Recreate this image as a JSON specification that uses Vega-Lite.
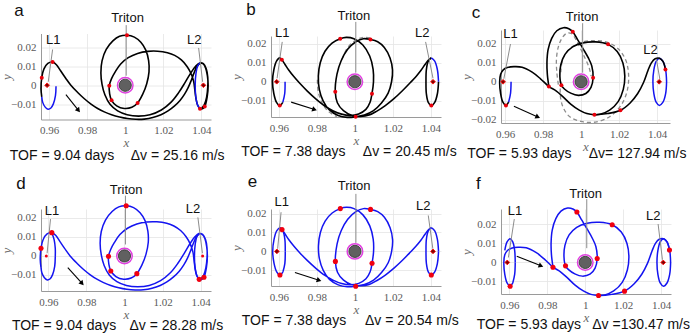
{
"$schema": "https://vega.github.io/schema/vega-lite/v6.json",
"padding": {"left": 0, "top": 1, "right": 0, "bottom": 0},
"background": "white",
"datasets": {
"tA": [
{"s":"o1","k":"orbit","x":0.9636,"y":-0.0005},{"s":"o1","k":"orbit","x":0.9633,"y":-0.0055},{"s":"o1","k":"orbit","x":0.9622,"y":-0.0098},{"s":"o1","k":"orbit","x":0.9608,"y":-0.0121},{"s":"o1","k":"orbit","x":0.9594,"y":-0.0126},{"s":"o1","k":"orbit","x":0.9579,"y":-0.0115},{"s":"o1","k":"orbit","x":0.9566,"y":-0.0090},{"s":"o1","k":"orbit","x":0.9561,"y":-0.0061},
{"s":"f1","k":"fill","x":0.9618,"y":0.0122},{"s":"f1","k":"fill","x":0.9630,"y":0.0085},{"s":"f1","k":"fill","x":0.9636,"y":0.0040},{"s":"f1","k":"fill","x":0.9636,"y":-0.0005},
{"s":"o2","k":"orbit","x":1.0394,"y":0.0118},{"s":"o2","k":"orbit","x":1.0381,"y":0.0102},{"s":"o2","k":"orbit","x":1.0372,"y":0.0062},{"s":"o2","k":"orbit","x":1.0368,"y":0.0},{"s":"o2","k":"orbit","x":1.0371,"y":-0.0060},{"s":"o2","k":"orbit","x":1.0380,"y":-0.0103},{"s":"o2","k":"orbit","x":1.0393,"y":-0.0123},
{"s":"m1","k":"traj","x":0.9561,"y":-0.0061},{"s":"m1","k":"traj","x":0.9557,"y":-0.0020},{"s":"m1","k":"traj","x":0.9561,"y":0.0040},{"s":"m1","k":"traj","x":0.9572,"y":0.0085},{"s":"m1","k":"traj","x":0.9593,"y":0.0115},{"s":"m1","k":"traj","x":0.9618,"y":0.0122},{"s":"m1","k":"traj","x":0.9638,"y":0.0108},{"s":"m1","k":"traj","x":0.9660,"y":0.0076},{"s":"m1","k":"traj","x":0.9686,"y":0.0038},{"s":"m1","k":"traj","x":0.9714,"y":0.0},{"s":"m1","k":"traj","x":0.9750,"y":-0.0038},{"s":"m1","k":"traj","x":0.9785,"y":-0.0071},{"s":"m1","k":"traj","x":0.9820,"y":-0.0099},{"s":"m1","k":"traj","x":0.9855,"y":-0.0122},{"s":"m1","k":"traj","x":0.9890,"y":-0.0140},{"s":"m1","k":"traj","x":0.9928,"y":-0.0155},{"s":"m1","k":"traj","x":0.9970,"y":-0.0167},{"s":"m1","k":"traj","x":1.0012,"y":-0.0175},{"s":"m1","k":"traj","x":1.0056,"y":-0.0179},{"s":"m1","k":"traj","x":1.0100,"y":-0.0178},{"s":"m1","k":"traj","x":1.0145,"y":-0.0170},{"s":"m1","k":"traj","x":1.0188,"y":-0.0155},{"s":"m1","k":"traj","x":1.0225,"y":-0.0135},{"s":"m1","k":"traj","x":1.0258,"y":-0.0110},{"s":"m1","k":"traj","x":1.0288,"y":-0.0080},{"s":"m1","k":"traj","x":1.0312,"y":-0.0047},{"s":"m1","k":"traj","x":1.0332,"y":-0.0010},{"s":"m1","k":"traj","x":1.0348,"y":0.0028},{"s":"m1","k":"traj","x":1.0362,"y":0.0065},{"s":"m1","k":"traj","x":1.0376,"y":0.0096},{"s":"m1","k":"traj","x":1.0394,"y":0.0116},{"s":"m1","k":"traj","x":1.0410,"y":0.0112},{"s":"m1","k":"traj","x":1.0423,"y":0.0090},{"s":"m1","k":"traj","x":1.0432,"y":0.0050},{"s":"m1","k":"traj","x":1.0436,"y":0.0},{"s":"m1","k":"traj","x":1.0431,"y":-0.0060},{"s":"m1","k":"traj","x":1.0418,"y":-0.0112},{"s":"m1","k":"traj","x":1.0405,"y":-0.0124},{"s":"m1","k":"traj","x":1.0393,"y":-0.0123},{"s":"m1","k":"traj","x":1.0381,"y":-0.0105},{"s":"m1","k":"traj","x":1.0372,"y":-0.0070},{"s":"m1","k":"traj","x":1.0366,"y":-0.0025},{"s":"m1","k":"traj","x":1.0360,"y":0.0020},{"s":"m1","k":"traj","x":1.0346,"y":0.0062},{"s":"m1","k":"traj","x":1.0325,"y":0.0099},{"s":"m1","k":"traj","x":1.0295,"y":0.0133},{"s":"m1","k":"traj","x":1.0260,"y":0.0157},{"s":"m1","k":"traj","x":1.0222,"y":0.0171},{"s":"m1","k":"traj","x":1.0170,"y":0.0179},{"s":"m1","k":"traj","x":1.0118,"y":0.0178},{"s":"m1","k":"traj","x":1.0065,"y":0.0167},{"s":"m1","k":"traj","x":1.0016,"y":0.0145},{"s":"m1","k":"traj","x":0.9976,"y":0.0112},{"s":"m1","k":"traj","x":0.9948,"y":0.0072},{"s":"m1","k":"traj","x":0.9928,"y":0.0035},{"s":"m1","k":"traj","x":0.9916,"y":-0.0002},{"s":"m1","k":"traj","x":0.9918,"y":-0.0045},{"s":"m1","k":"traj","x":0.9928,"y":-0.0079},{"s":"m1","k":"traj","x":0.9955,"y":-0.0108},{"s":"m1","k":"traj","x":0.9995,"y":-0.0122},{"s":"m1","k":"traj","x":1.0035,"y":-0.0116},{"s":"m1","k":"traj","x":1.0065,"y":-0.0093},{"s":"m1","k":"traj","x":1.0092,"y":-0.0047},{"s":"m1","k":"traj","x":1.0113,"y":0.0008},{"s":"m1","k":"traj","x":1.0125,"y":0.0070},{"s":"m1","k":"traj","x":1.0123,"y":0.0130},{"s":"m1","k":"traj","x":1.0108,"y":0.0185},{"s":"m1","k":"traj","x":1.0082,"y":0.0226},{"s":"m1","k":"traj","x":1.0048,"y":0.0253},{"s":"m1","k":"traj","x":1.0009,"y":0.0263},{"s":"m1","k":"traj","x":0.9970,"y":0.0257},{"s":"m1","k":"traj","x":0.9935,"y":0.0233},{"s":"m1","k":"traj","x":0.9900,"y":0.0188},{"s":"m1","k":"traj","x":0.9878,"y":0.0128},{"s":"m1","k":"traj","x":0.9872,"y":0.0065},{"s":"m1","k":"traj","x":0.9878,"y":0.0005},{"s":"m1","k":"traj","x":0.9893,"y":-0.0050},{"s":"m1","k":"traj","x":0.9920,"y":-0.0100},{"s":"m1","k":"traj","x":0.9960,"y":-0.0135},{"s":"m1","k":"traj","x":1.0010,"y":-0.0155},{"s":"m1","k":"traj","x":1.0070,"y":-0.0162},{"s":"m1","k":"traj","x":1.0130,"y":-0.0155},{"s":"m1","k":"traj","x":1.0190,"y":-0.0130},{"s":"m1","k":"traj","x":1.0240,"y":-0.0090},{"s":"m1","k":"traj","x":1.0280,"y":-0.0040},{"s":"m1","k":"traj","x":1.0315,"y":0.0015},{"s":"m1","k":"traj","x":1.0345,"y":0.0065},{"s":"m1","k":"traj","x":1.0370,"y":0.0100},{"s":"m1","k":"traj","x":1.0392,"y":0.0117},{"s":"m1","k":"traj","x":1.0411,"y":0.0113},{"s":"m1","k":"traj","x":1.0426,"y":0.0087},{"s":"m1","k":"traj","x":1.0434,"y":0.0042},{"s":"m1","k":"traj","x":1.0434,"y":-0.0010},{"s":"m1","k":"traj","x":1.0428,"y":-0.0062},{"s":"m1","k":"traj","x":1.0416,"y":-0.0102},{"s":"m1","k":"traj","x":1.0402,"y":-0.0120}
],
"tB": [
{"s":"f1","k":"fill","x":0.9605,"y":0.0125},{"s":"f1","k":"fill","x":0.9621,"y":0.0108},{"s":"f1","k":"fill","x":0.9631,"y":0.0063},{"s":"f1","k":"fill","x":0.9633,"y":0.0},
{"s":"o1","k":"orbit","x":0.9633,"y":0.0},{"s":"o1","k":"orbit","x":0.9631,"y":-0.0063},{"s":"o1","k":"orbit","x":0.9621,"y":-0.0108},
{"s":"m1","k":"traj","x":0.9621,"y":-0.0108},{"s":"m1","k":"traj","x":0.9605,"y":-0.0125},{"s":"m1","k":"traj","x":0.9588,"y":-0.0108},{"s":"m1","k":"traj","x":0.9574,"y":-0.0063},{"s":"m1","k":"traj","x":0.9567,"y":0.0},{"s":"m1","k":"traj","x":0.9574,"y":0.0063},{"s":"m1","k":"traj","x":0.9588,"y":0.0108},{"s":"m1","k":"traj","x":0.9605,"y":0.0125},{"s":"m1","k":"traj","x":0.9616,"y":0.0115},{"s":"m1","k":"traj","x":0.9632,"y":0.0092},{"s":"m1","k":"traj","x":0.9653,"y":0.0060},{"s":"m1","k":"traj","x":0.9679,"y":0.0027},{"s":"m1","k":"traj","x":0.9709,"y":-0.0007},{"s":"m1","k":"traj","x":0.9750,"y":-0.0049},{"s":"m1","k":"traj","x":0.9796,"y":-0.0091},{"s":"m1","k":"traj","x":0.9840,"y":-0.0126},{"s":"m1","k":"traj","x":0.9884,"y":-0.0152},{"s":"m1","k":"traj","x":0.9930,"y":-0.0170},{"s":"m1","k":"traj","x":0.9975,"y":-0.0177},{"s":"m1","k":"traj","x":1.0020,"y":-0.0169},{"s":"m1","k":"traj","x":1.0058,"y":-0.0145},{"s":"m1","k":"traj","x":1.0080,"y":-0.0108},{"s":"m1","k":"traj","x":1.0090,"y":-0.0063},{"s":"m1","k":"traj","x":1.0098,"y":0.0},{"s":"m1","k":"traj","x":1.0096,"y":0.0065},{"s":"m1","k":"traj","x":1.0078,"y":0.0135},{"s":"m1","k":"traj","x":1.0042,"y":0.0193},{"s":"m1","k":"traj","x":0.9995,"y":0.0226},{"s":"m1","k":"traj","x":0.9955,"y":0.0233},{"s":"m1","k":"traj","x":0.9923,"y":0.0226},{"s":"m1","k":"traj","x":0.9880,"y":0.0203},{"s":"m1","k":"traj","x":0.9843,"y":0.0160},{"s":"m1","k":"traj","x":0.9818,"y":0.0100},{"s":"m1","k":"traj","x":0.9808,"y":0.0030},{"s":"m1","k":"traj","x":0.9813,"y":-0.0040},{"s":"m1","k":"traj","x":0.9833,"y":-0.0100},{"s":"m1","k":"traj","x":0.9866,"y":-0.0148},{"s":"m1","k":"traj","x":0.9912,"y":-0.0177},{"s":"m1","k":"traj","x":0.9960,"y":-0.0187},{"s":"m1","k":"traj","x":1.0004,"y":-0.0184},{"s":"m1","k":"traj","x":1.0050,"y":-0.0175},{"s":"m1","k":"traj","x":1.0098,"y":-0.0152},{"s":"m1","k":"traj","x":1.0140,"y":-0.0112},{"s":"m1","k":"traj","x":1.0175,"y":-0.0060},{"s":"m1","k":"traj","x":1.0193,"y":0.0},{"s":"m1","k":"traj","x":1.0198,"y":0.0062},{"s":"m1","k":"traj","x":1.0185,"y":0.0125},{"s":"m1","k":"traj","x":1.0155,"y":0.0180},{"s":"m1","k":"traj","x":1.0120,"y":0.0210},{"s":"m1","k":"traj","x":1.0082,"y":0.0222},{"s":"m1","k":"traj","x":1.0045,"y":0.0226},{"s":"m1","k":"traj","x":1.0005,"y":0.0210},{"s":"m1","k":"traj","x":0.9962,"y":0.0170},{"s":"m1","k":"traj","x":0.9928,"y":0.0110},{"s":"m1","k":"traj","x":0.9906,"y":0.0040},{"s":"m1","k":"traj","x":0.9897,"y":-0.0053},{"s":"m1","k":"traj","x":0.9908,"y":-0.0110},{"s":"m1","k":"traj","x":0.9940,"y":-0.0152},{"s":"m1","k":"traj","x":0.9985,"y":-0.0177},{"s":"m1","k":"traj","x":1.0030,"y":-0.0182},{"s":"m1","k":"traj","x":1.0075,"y":-0.0175},{"s":"m1","k":"traj","x":1.0116,"y":-0.0154},{"s":"m1","k":"traj","x":1.0160,"y":-0.0125},{"s":"m1","k":"traj","x":1.0204,"y":-0.0090},{"s":"m1","k":"traj","x":1.0250,"y":-0.0047},{"s":"m1","k":"traj","x":1.0291,"y":-0.0005},{"s":"m1","k":"traj","x":1.0322,"y":0.0028},{"s":"m1","k":"traj","x":1.0348,"y":0.0060},{"s":"m1","k":"traj","x":1.0370,"y":0.0092},{"s":"m1","k":"traj","x":1.0387,"y":0.0114},{"s":"m1","k":"traj","x":1.0402,"y":0.0125},
{"s":"o2","k":"orbit","x":1.0402,"y":0.0125},{"s":"o2","k":"orbit","x":1.0420,"y":0.0108},{"s":"o2","k":"orbit","x":1.0434,"y":0.0063},{"s":"o2","k":"orbit","x":1.0440,"y":0.0},
{"s":"m2","k":"traj","x":1.0440,"y":0.0},{"s":"m2","k":"traj","x":1.0434,"y":-0.0063},{"s":"m2","k":"traj","x":1.0420,"y":-0.0108},{"s":"m2","k":"traj","x":1.0402,"y":-0.0125},{"s":"m2","k":"traj","x":1.0386,"y":-0.0108},{"s":"m2","k":"traj","x":1.0376,"y":-0.0063},{"s":"m2","k":"traj","x":1.0374,"y":0.0},{"s":"m2","k":"traj","x":1.0376,"y":0.0063},{"s":"m2","k":"traj","x":1.0386,"y":0.0108},{"s":"m2","k":"traj","x":1.0402,"y":0.0125},
{"s":"d1","k":"dash","x":0.9932,"y":0.0118},{"s":"d1","k":"dash","x":0.9960,"y":0.0176},{"s":"d1","k":"dash","x":0.9998,"y":0.0214},{"s":"d1","k":"dash","x":1.0045,"y":0.0233},{"s":"d1","k":"dash","x":1.0088,"y":0.0229},
{"s":"d2","k":"dash","x":0.9803,"y":0.0010},{"s":"d2","k":"dash","x":0.9807,"y":-0.0050},{"s":"d2","k":"dash","x":0.9826,"y":-0.0107},{"s":"d2","k":"dash","x":0.9860,"y":-0.0155},{"s":"d2","k":"dash","x":0.9905,"y":-0.0183}
],
"tC": [
{"s":"f1","k":"fill","x":0.9576,"y":0.0063},{"s":"f1","k":"fill","x":0.9588,"y":0.0108},{"s":"f1","k":"fill","x":0.9604,"y":0.0125},{"s":"f1","k":"fill","x":0.9618,"y":0.0108},{"s":"f1","k":"fill","x":0.9628,"y":0.0063},{"s":"f1","k":"fill","x":0.9631,"y":0.0},
{"s":"o1","k":"orbit","x":0.9631,"y":0.0},{"s":"o1","k":"orbit","x":0.9628,"y":-0.0063},{"s":"o1","k":"orbit","x":0.9618,"y":-0.0108},
{"s":"o2","k":"orbit","x":1.0450,"y":0.0},{"s":"o2","k":"orbit","x":1.0445,"y":0.0063},{"s":"o2","k":"orbit","x":1.0431,"y":0.0108},{"s":"o2","k":"orbit","x":1.0412,"y":0.0125},{"s":"o2","k":"orbit","x":1.0395,"y":0.0108},{"s":"o2","k":"orbit","x":1.0383,"y":0.0063},{"s":"o2","k":"orbit","x":1.0378,"y":0.0},{"s":"o2","k":"orbit","x":1.0383,"y":-0.0063},{"s":"o2","k":"orbit","x":1.0395,"y":-0.0108},{"s":"o2","k":"orbit","x":1.0412,"y":-0.0125},{"s":"o2","k":"orbit","x":1.0431,"y":-0.0108},{"s":"o2","k":"orbit","x":1.0445,"y":-0.0063},{"s":"o2","k":"orbit","x":1.0450,"y":0.0},
{"s":"m1","k":"traj","x":0.9618,"y":-0.0108},{"s":"m1","k":"traj","x":0.9604,"y":-0.0125},{"s":"m1","k":"traj","x":0.9588,"y":-0.0108},{"s":"m1","k":"traj","x":0.9576,"y":-0.0063},{"s":"m1","k":"traj","x":0.9571,"y":0.0},{"s":"m1","k":"traj","x":0.9576,"y":0.0040},{"s":"m1","k":"traj","x":0.9590,"y":0.0063},{"s":"m1","k":"traj","x":0.9611,"y":0.0075},{"s":"m1","k":"traj","x":0.9646,"y":0.0080},{"s":"m1","k":"traj","x":0.9689,"y":0.0077},{"s":"m1","k":"traj","x":0.9742,"y":0.0051},{"s":"m1","k":"traj","x":0.9786,"y":0.0016},{"s":"m1","k":"traj","x":0.9830,"y":-0.0025},{"s":"m1","k":"traj","x":0.9868,"y":-0.0048},{"s":"m1","k":"traj","x":0.9905,"y":-0.0080},{"s":"m1","k":"traj","x":0.9945,"y":-0.0118},{"s":"m1","k":"traj","x":0.9990,"y":-0.0150},{"s":"m1","k":"traj","x":1.0030,"y":-0.0168},{"s":"m1","k":"traj","x":1.0070,"y":-0.0174},{"s":"m1","k":"traj","x":1.0140,"y":-0.0168},{"s":"m1","k":"traj","x":1.0207,"y":-0.0151},{"s":"m1","k":"traj","x":1.0258,"y":-0.0112},{"s":"m1","k":"traj","x":1.0298,"y":-0.0062},{"s":"m1","k":"traj","x":1.0328,"y":-0.0005},{"s":"m1","k":"traj","x":1.0352,"y":0.0060},{"s":"m1","k":"traj","x":1.0370,"y":0.0100},{"s":"m1","k":"traj","x":1.0390,"y":0.0122},{"s":"m1","k":"traj","x":1.0412,"y":0.0125},{"s":"m1","k":"traj","x":1.0431,"y":0.0108},{"s":"m1","k":"traj","x":1.0444,"y":0.0065},
{"s":"m2","k":"traj","x":0.9830,"y":-0.0025},{"s":"m2","k":"traj","x":0.9822,"y":0.0040},{"s":"m2","k":"traj","x":0.9820,"y":0.0102},{"s":"m2","k":"traj","x":0.9826,"y":0.0170},{"s":"m2","k":"traj","x":0.9845,"y":0.0230},{"s":"m2","k":"traj","x":0.9872,"y":0.0270},{"s":"m2","k":"traj","x":0.9907,"y":0.0286},{"s":"m2","k":"traj","x":0.9935,"y":0.0281},{"s":"m2","k":"traj","x":0.9956,"y":0.0265},{"s":"m2","k":"traj","x":0.9982,"y":0.0222},{"s":"m2","k":"traj","x":1.0012,"y":0.0172},{"s":"m2","k":"traj","x":1.0038,"y":0.0126},{"s":"m2","k":"traj","x":1.0056,"y":0.0084},{"s":"m2","k":"traj","x":1.0063,"y":0.0021},{"s":"m2","k":"traj","x":1.0052,"y":-0.0030},{"s":"m2","k":"traj","x":1.0025,"y":-0.0062},{"s":"m2","k":"traj","x":0.9985,"y":-0.0072},{"s":"m2","k":"traj","x":0.9945,"y":-0.0060},{"s":"m2","k":"traj","x":0.9912,"y":-0.0038},{"s":"m2","k":"traj","x":0.9896,"y":-0.0018},{"s":"m2","k":"traj","x":0.9888,"y":0.0030},{"s":"m2","k":"traj","x":0.9893,"y":0.0090},{"s":"m2","k":"traj","x":0.9915,"y":0.0145},{"s":"m2","k":"traj","x":0.9955,"y":0.0185},{"s":"m2","k":"traj","x":1.0010,"y":0.0206},{"s":"m2","k":"traj","x":1.0075,"y":0.0211},{"s":"m2","k":"traj","x":1.0142,"y":0.0198},{"s":"m2","k":"traj","x":1.0190,"y":0.0160},{"s":"m2","k":"traj","x":1.0220,"y":0.0100},{"s":"m2","k":"traj","x":1.0230,"y":0.0030},{"s":"m2","k":"traj","x":1.0222,"y":-0.0040},{"s":"m2","k":"traj","x":1.0195,"y":-0.0105},{"s":"m2","k":"traj","x":1.0150,"y":-0.0150},{"s":"m2","k":"traj","x":1.0100,"y":-0.0172},{"s":"m2","k":"traj","x":1.0070,"y":-0.0174},
{"s":"d1","k":"dash","x":0.9893,"y":0.0050},{"s":"d1","k":"dash","x":0.9902,"y":0.0115},{"s":"d1","k":"dash","x":0.9935,"y":0.0170},{"s":"d1","k":"dash","x":0.9990,"y":0.0205},{"s":"d1","k":"dash","x":1.0060,"y":0.0218},{"s":"d1","k":"dash","x":1.0135,"y":0.0210},{"s":"d1","k":"dash","x":1.0195,"y":0.0175},{"s":"d1","k":"dash","x":1.0235,"y":0.0115},{"s":"d1","k":"dash","x":1.0250,"y":0.0035},{"s":"d1","k":"dash","x":1.0242,"y":-0.0050},{"s":"d1","k":"dash","x":1.0210,"y":-0.0125},{"s":"d1","k":"dash","x":1.0150,"y":-0.0185},{"s":"d1","k":"dash","x":1.0075,"y":-0.0213},{"s":"d1","k":"dash","x":1.0000,"y":-0.0210},{"s":"d1","k":"dash","x":0.9940,"y":-0.0185},{"s":"d1","k":"dash","x":0.9905,"y":-0.0135},{"s":"d1","k":"dash","x":0.9890,"y":-0.0070},{"s":"d1","k":"dash","x":0.9893,"y":0.0},
{"s":"d2","k":"dash","x":0.9880,"y":-0.0015},{"s":"d2","k":"dash","x":0.9872,"y":0.0050},{"s":"d2","k":"dash","x":0.9870,"y":0.0120},{"s":"d2","k":"dash","x":0.9880,"y":0.0185},{"s":"d2","k":"dash","x":0.9900,"y":0.0232},{"s":"d2","k":"dash","x":0.9925,"y":0.0257},{"s":"d2","k":"dash","x":0.9950,"y":0.0254},{"s":"d2","k":"dash","x":0.9972,"y":0.0224},{"s":"d2","k":"dash","x":0.9997,"y":0.0175},{"s":"d2","k":"dash","x":1.0022,"y":0.0122},{"s":"d2","k":"dash","x":1.0042,"y":0.0075},{"s":"d2","k":"dash","x":1.0053,"y":0.0030}
],
"rA": [{"x":0.9561,"y":0.0040},{"x":0.9618,"y":0.0122},{"x":1.0009,"y":0.0263},{"x":0.9916,"y":-0.0002},{"x":0.9928,"y":-0.0079},{"x":1.0065,"y":-0.0093},{"x":1.0393,"y":-0.0123},{"x":1.0418,"y":-0.0112}],
"rB": [{"x":0.9616,"y":0.0115},{"x":0.9605,"y":-0.0125},{"x":0.9923,"y":0.0226},{"x":1.0082,"y":0.0222},{"x":0.9897,"y":-0.0053},{"x":1.0090,"y":-0.0063},{"x":1.0004,"y":-0.0184},{"x":1.0402,"y":-0.0125}],
"rC": [{"x":0.9604,"y":-0.0125},{"x":0.9830,"y":-0.0025},{"x":0.9896,"y":-0.0018},{"x":0.9956,"y":0.0265},{"x":1.0142,"y":0.0198},{"x":1.0063,"y":0.0021},{"x":1.0070,"y":-0.0174},{"x":1.0207,"y":-0.0151},{"x":1.0444,"y":0.0065}],
"lp": [{"x":0.9589,"y":0},{"x":1.0411,"y":0}],
"tri": [{"x":1.0,"y":0}],
"lead": [
{"p":"a","x":1.0005,"y":0.0316,"x2":1.0005,"y2":0.0050},{"p":"a","x":0.9618,"y":0.0188,"x2":0.9595,"y2":0.0018},{"p":"a","x":1.0386,"y":0.0196,"x2":1.0407,"y2":0.0018},
{"p":"b","x":1.0005,"y":0.0314,"x2":1.0005,"y2":0.0048},{"p":"b","x":0.9618,"y":0.0209,"x2":0.9591,"y2":0.0018},{"p":"b","x":1.0372,"y":0.0209,"x2":1.0411,"y2":0.0018},
{"p":"c","x":1.0008,"y":0.0310,"x2":1.0008,"y2":0.0048},{"p":"c","x":0.9628,"y":0.0200,"x2":0.9593,"y2":0.0016},{"p":"c","x":1.0396,"y":0.0121,"x2":1.0415,"y2":0.0012},
{"p":"d","x":1.0005,"y":0.0316,"x2":1.0005,"y2":0.0060},{"p":"d","x":0.9611,"y":0.0193,"x2":0.9593,"y2":0.0014},{"p":"d","x":1.0386,"y":0.0202,"x2":1.0410,"y2":0.0014},
{"p":"e","x":1.0005,"y":0.0304,"x2":1.0005,"y2":0.0045},{"p":"e","x":0.9611,"y":0.0207,"x2":0.9593,"y2":0.0014},{"p":"e","x":1.0386,"y":0.0190,"x2":1.0410,"y2":0.0014},
{"p":"f","x":1.0008,"y":0.0333,"x2":1.0008,"y2":0.0075},{"p":"f","x":0.9626,"y":0.0228,"x2":0.9595,"y2":0.0026},{"p":"f","x":1.0384,"y":0.0202,"x2":1.0407,"y2":0.0014}
],
"arr": [
{"p":"a","x":0.9688,"y":-0.0049,"x2":0.9754,"y2":-0.0132},
{"p":"b","x":0.9665,"y":-0.0107,"x2":0.9788,"y2":-0.0146},
{"p":"c","x":0.9646,"y":-0.0130,"x2":0.9772,"y2":-0.0186},
{"p":"d","x":0.9702,"y":-0.0061,"x2":0.9777,"y2":-0.0144},
{"p":"e","x":0.9684,"y":-0.0112,"x2":0.9811,"y2":-0.0153},
{"p":"f","x":0.9639,"y":0.0032,"x2":0.9767,"y2":-0.0018}
],
"ah": [
{"p":"a","x":0.9754,"y":-0.0132},{"p":"b","x":0.9788,"y":-0.0146},{"p":"c","x":0.9772,"y":-0.0186},
{"p":"d","x":0.9777,"y":-0.0144},{"p":"e","x":0.9811,"y":-0.0153},{"p":"f","x":0.9767,"y":-0.0018}
],
"ann": [
{"p":"a","t":"lab","txt":"Triton","x":1.0012,"y":0.0356},{"p":"a","t":"lab","txt":"L1","x":0.9621,"y":0.0237},{"p":"a","t":"lab","txt":"L2","x":1.0363,"y":0.0240},{"p":"a","t":"let","txt":"a","x":0.9441,"y":0.0389},{"p":"a","t":"bot","txt":"TOF = 9.04 days","x":0.9393,"y":-0.0391},{"p":"a","t":"bot","txt":"Δv = 25.16 m/s","x":1.0029,"y":-0.0391},
{"p":"b","t":"lab","txt":"Triton","x":0.9995,"y":0.0346},{"p":"b","t":"lab","txt":"L1","x":0.9618,"y":0.0258},{"p":"b","t":"lab","txt":"L2","x":1.0354,"y":0.0258},{"p":"b","t":"let","txt":"b","x":0.9454,"y":0.0375},{"p":"b","t":"bot","txt":"TOF = 7.38 days","x":0.9402,"y":-0.0392},{"p":"b","t":"bot","txt":"Δv = 20.45 m/s","x":1.0042,"y":-0.0392},
{"p":"c","t":"lab","txt":"Triton","x":1.0005,"y":0.0341},{"p":"c","t":"lab","txt":"L1","x":0.9628,"y":0.0253},{"p":"c","t":"lab","txt":"L2","x":1.0365,"y":0.0168},{"p":"c","t":"let","txt":"c","x":0.9447,"y":0.0366},{"p":"c","t":"bot","txt":"TOF = 5.93 days","x":0.9400,"y":-0.0405},{"p":"c","t":"bot","txt":"Δv= 127.94 m/s","x":1.0040,"y":-0.0405},
{"p":"d","t":"lab","txt":"Triton","x":1.0009,"y":0.0347},{"p":"d","t":"lab","txt":"L1","x":0.9619,"y":0.0237},{"p":"d","t":"lab","txt":"L2","x":1.0360,"y":0.0246},{"p":"d","t":"let","txt":"d","x":0.9456,"y":0.0377},{"p":"d","t":"bot","txt":"TOF = 9.04 days","x":0.9408,"y":-0.0386},{"p":"d","t":"bot","txt":"Δv = 28.28 m/s","x":1.0026,"y":-0.0386},
{"p":"e","t":"lab","txt":"Triton","x":0.9996,"y":0.0344},{"p":"e","t":"lab","txt":"L1","x":0.9614,"y":0.0260},{"p":"e","t":"lab","txt":"L2","x":1.0360,"y":0.0242},{"p":"e","t":"let","txt":"e","x":0.9460,"y":0.0368},{"p":"e","t":"bot","txt":"TOF = 7.38 days","x":0.9404,"y":-0.0389},{"p":"e","t":"bot","txt":"Δv = 20.54 m/s","x":1.0053,"y":-0.0389},
{"p":"f","t":"lab","txt":"Triton","x":1.0002,"y":0.0360},{"p":"f","t":"lab","txt":"L1","x":0.9630,"y":0.0272},{"p":"f","t":"lab","txt":"L2","x":1.0358,"y":0.0246},{"p":"f","t":"let","txt":"f","x":0.9437,"y":0.0413},{"p":"f","t":"bot","txt":"TOF = 5.93 days","x":0.9428,"y":-0.0350},{"p":"f","t":"bot","txt":"Δv =130.47 m/s","x":1.0037,"y":-0.0350}
]
},
"columns": 3,
"bounds": "flush",
"center": true,
"spacing": {"row": 86, "column": 60},
"concat": [
{
"width": 170, "height": 86,
"encoding": {
"x": {"field": "x", "type": "quantitative", "scale": {"domain": [0.9557, 1.0451], "nice": false, "zero": false}, "axis": {"values": [0.96, 0.98, 1, 1.02, 1.04], "format": "~g", "title": "x"}},
"y": {"field": "y", "type": "quantitative", "scale": {"domain": [-0.018, 0.0272], "nice": false, "zero": false}, "axis": {"values": [-0.01, 0, 0.01, 0.02], "format": "~g", "title": "y"}}
},
"layer": [
{"data": {"name": "tA"}, "transform": [{"filter": "datum.k=='traj'"}], "mark": {"type": "line", "color": "#000000", "strokeWidth": 1.6, "interpolate": "catmull-rom"}, "encoding": {"detail": {"field": "s"}, "order": {"value": null}}},
{"data": {"name": "tA"}, "transform": [{"filter": "datum.k=='orbit'"}], "mark": {"type": "line", "color": "#1414f0", "strokeWidth": 1.5, "interpolate": "catmull-rom"}, "encoding": {"detail": {"field": "s"}, "order": {"value": null}}},
{"data": {"name": "lead"}, "transform": [{"filter": "datum.p=='a'"}], "mark": {"type": "rule", "color": "#8c8c8c", "strokeWidth": 1}, "encoding": {"x2": {"field": "x2"}, "y2": {"field": "y2"}}},
{"data": {"name": "tri"}, "mark": {"type": "point", "shape": "circle", "filled": true, "fill": "#ffffff", "stroke": "#e040e0", "strokeWidth": 1.5, "size": 240, "opacity": 1}},
{"data": {"name": "tri"}, "mark": {"type": "point", "shape": "circle", "filled": true, "fill": "#606060", "stroke": "#2b2b2b", "strokeWidth": 0.8, "size": 150, "opacity": 1}},
{"data": {"name": "rA"}, "mark": {"type": "point", "shape": "circle", "filled": true, "color": "#e8000b", "size": 16, "opacity": 1}},
{"data": {"name": "lp"}, "mark": {"type": "point", "shape": "diamond", "filled": true, "fill": "#800000", "stroke": "#ff1010", "strokeWidth": 1, "size": 22, "opacity": 1}},
{"data": {"name": "arr"}, "transform": [{"filter": "datum.p=='a'"}], "mark": {"type": "rule", "color": "#000000", "strokeWidth": 1.1}, "encoding": {"x2": {"field": "x2"}, "y2": {"field": "y2"}}},
{"data": {"name": "ah"}, "transform": [{"filter": "datum.p=='a'"}], "mark": {"type": "point", "shape": "triangle-right", "filled": true, "color": "#000000", "size": 30, "angle": 51, "opacity": 1}},
{"data": {"name": "ann"}, "transform": [{"filter": "datum.p=='a' && datum.t=='lab'"}], "mark": {"type": "text", "fontSize": 13, "color": "#111111"}, "encoding": {"text": {"field": "txt"}}},
{"data": {"name": "ann"}, "transform": [{"filter": "datum.p=='a' && datum.t=='let'"}], "mark": {"type": "text", "fontSize": 17, "color": "#111111"}, "encoding": {"text": {"field": "txt"}}},
{"data": {"name": "ann"}, "transform": [{"filter": "datum.p=='a' && datum.t=='bot'"}], "mark": {"type": "text", "fontSize": 14, "align": "left", "baseline": "alphabetic", "color": "#111111"}, "encoding": {"text": {"field": "txt"}}}
]
},
{
"width": 170, "height": 81,
"encoding": {
"x": {"field": "x", "type": "quantitative", "scale": {"domain": [0.9559, 1.0453], "nice": false, "zero": false}, "axis": {"values": [0.96, 0.98, 1, 1.02, 1.04], "format": "~g", "title": "x"}},
"y": {"field": "y", "type": "quantitative", "scale": {"domain": [-0.0185, 0.024], "nice": false, "zero": false}, "axis": {"values": [-0.01, 0, 0.01, 0.02], "format": "~g", "title": "y"}}
},
"layer": [
{"data": {"name": "tB"}, "transform": [{"filter": "datum.k=='dash'"}], "mark": {"type": "line", "color": "#8c8c8c", "strokeWidth": 1.3, "strokeDash": [4, 3], "interpolate": "catmull-rom"}, "encoding": {"detail": {"field": "s"}, "order": {"value": null}}},
{"data": {"name": "tB"}, "transform": [{"filter": "datum.k=='traj'"}], "mark": {"type": "line", "color": "#000000", "strokeWidth": 1.6, "interpolate": "catmull-rom"}, "encoding": {"detail": {"field": "s"}, "order": {"value": null}}},
{"data": {"name": "tB"}, "transform": [{"filter": "datum.k=='orbit'"}], "mark": {"type": "line", "color": "#1414f0", "strokeWidth": 1.5, "interpolate": "catmull-rom"}, "encoding": {"detail": {"field": "s"}, "order": {"value": null}}},
{"data": {"name": "lead"}, "transform": [{"filter": "datum.p=='b'"}], "mark": {"type": "rule", "color": "#8c8c8c", "strokeWidth": 1}, "encoding": {"x2": {"field": "x2"}, "y2": {"field": "y2"}}},
{"data": {"name": "tri"}, "mark": {"type": "point", "shape": "circle", "filled": true, "fill": "#ffffff", "stroke": "#e040e0", "strokeWidth": 1.5, "size": 240, "opacity": 1}},
{"data": {"name": "tri"}, "mark": {"type": "point", "shape": "circle", "filled": true, "fill": "#606060", "stroke": "#2b2b2b", "strokeWidth": 0.8, "size": 150, "opacity": 1}},
{"data": {"name": "rB"}, "mark": {"type": "point", "shape": "circle", "filled": true, "color": "#e8000b", "size": 16, "opacity": 1}},
{"data": {"name": "lp"}, "mark": {"type": "point", "shape": "diamond", "filled": true, "fill": "#800000", "stroke": "#ff1010", "strokeWidth": 1, "size": 22, "opacity": 1}},
{"data": {"name": "arr"}, "transform": [{"filter": "datum.p=='b'"}], "mark": {"type": "rule", "color": "#000000", "strokeWidth": 1.1}, "encoding": {"x2": {"field": "x2"}, "y2": {"field": "y2"}}},
{"data": {"name": "ah"}, "transform": [{"filter": "datum.p=='b'"}], "mark": {"type": "point", "shape": "triangle-right", "filled": true, "color": "#000000", "size": 30, "angle": 18, "opacity": 1}},
{"data": {"name": "ann"}, "transform": [{"filter": "datum.p=='b' && datum.t=='lab'"}], "mark": {"type": "text", "fontSize": 13, "color": "#111111"}, "encoding": {"text": {"field": "txt"}}},
{"data": {"name": "ann"}, "transform": [{"filter": "datum.p=='b' && datum.t=='let'"}], "mark": {"type": "text", "fontSize": 17, "color": "#111111"}, "encoding": {"text": {"field": "txt"}}},
{"data": {"name": "ann"}, "transform": [{"filter": "datum.p=='b' && datum.t=='bot'"}], "mark": {"type": "text", "fontSize": 14, "align": "left", "baseline": "alphabetic", "color": "#111111"}, "encoding": {"text": {"field": "txt"}}}
]
},
{
"width": 169, "height": 93,
"encoding": {
"x": {"field": "x", "type": "quantitative", "scale": {"domain": [0.9578, 1.0468], "nice": false, "zero": false}, "axis": {"values": [0.96, 0.98, 1, 1.02, 1.04], "format": "~g", "title": "x"}},
"y": {"field": "y", "type": "quantitative", "scale": {"domain": [-0.0218, 0.0274], "nice": false, "zero": false}, "axis": {"values": [-0.02, -0.01, 0, 0.01, 0.02], "format": "~g", "title": "y"}}
},
"layer": [
{"data": {"name": "tC"}, "transform": [{"filter": "datum.k=='dash'"}], "mark": {"type": "line", "color": "#8c8c8c", "strokeWidth": 1.3, "strokeDash": [4, 3], "interpolate": "catmull-rom"}, "encoding": {"detail": {"field": "s"}, "order": {"value": null}}},
{"data": {"name": "tC"}, "transform": [{"filter": "datum.k=='orbit'"}], "mark": {"type": "line", "color": "#1414f0", "strokeWidth": 1.5, "interpolate": "catmull-rom"}, "encoding": {"detail": {"field": "s"}, "order": {"value": null}}},
{"data": {"name": "tC"}, "transform": [{"filter": "datum.k=='traj'"}], "mark": {"type": "line", "color": "#000000", "strokeWidth": 1.6, "interpolate": "catmull-rom"}, "encoding": {"detail": {"field": "s"}, "order": {"value": null}}},
{"data": {"name": "lead"}, "transform": [{"filter": "datum.p=='c'"}], "mark": {"type": "rule", "color": "#8c8c8c", "strokeWidth": 1}, "encoding": {"x2": {"field": "x2"}, "y2": {"field": "y2"}}},
{"data": {"name": "tri"}, "mark": {"type": "point", "shape": "circle", "filled": true, "fill": "#ffffff", "stroke": "#e040e0", "strokeWidth": 1.5, "size": 240, "opacity": 1}},
{"data": {"name": "tri"}, "mark": {"type": "point", "shape": "circle", "filled": true, "fill": "#606060", "stroke": "#2b2b2b", "strokeWidth": 0.8, "size": 150, "opacity": 1}},
{"data": {"name": "rC"}, "mark": {"type": "point", "shape": "circle", "filled": true, "color": "#e8000b", "size": 16, "opacity": 1}},
{"data": {"name": "lp"}, "mark": {"type": "point", "shape": "diamond", "filled": true, "fill": "#800000", "stroke": "#ff1010", "strokeWidth": 1, "size": 22, "opacity": 1}},
{"data": {"name": "arr"}, "transform": [{"filter": "datum.p=='c'"}], "mark": {"type": "rule", "color": "#000000", "strokeWidth": 1.1}, "encoding": {"x2": {"field": "x2"}, "y2": {"field": "y2"}}},
{"data": {"name": "ah"}, "transform": [{"filter": "datum.p=='c'"}], "mark": {"type": "point", "shape": "triangle-right", "filled": true, "color": "#000000", "size": 30, "angle": 24, "opacity": 1}},
{"data": {"name": "ann"}, "transform": [{"filter": "datum.p=='c' && datum.t=='lab'"}], "mark": {"type": "text", "fontSize": 13, "color": "#111111"}, "encoding": {"text": {"field": "txt"}}},
{"data": {"name": "ann"}, "transform": [{"filter": "datum.p=='c' && datum.t=='let'"}], "mark": {"type": "text", "fontSize": 17, "color": "#111111"}, "encoding": {"text": {"field": "txt"}}},
{"data": {"name": "ann"}, "transform": [{"filter": "datum.p=='c' && datum.t=='bot'"}], "mark": {"type": "text", "fontSize": 14, "align": "left", "baseline": "alphabetic", "color": "#111111"}, "encoding": {"text": {"field": "txt"}}}
]
},
{
"width": 170, "height": 82,
"encoding": {
"x": {"field": "x", "type": "quantitative", "scale": {"domain": [0.9561, 1.0455], "nice": false, "zero": false}, "axis": {"values": [0.96, 0.98, 1, 1.02, 1.04], "format": "~g", "title": "x"}},
"y": {"field": "y", "type": "quantitative", "scale": {"domain": [-0.0184, 0.0246], "nice": false, "zero": false}, "axis": {"values": [-0.01, 0, 0.01, 0.02], "format": "~g", "title": "y"}}
},
"layer": [
{"data": {"name": "tA"}, "transform": [{"filter": "datum.k!='dash'"}], "mark": {"type": "line", "color": "#1414f0", "strokeWidth": 1.5, "interpolate": "catmull-rom"}, "encoding": {"detail": {"field": "s"}, "order": {"value": null}}},
{"data": {"name": "lead"}, "transform": [{"filter": "datum.p=='d'"}], "mark": {"type": "rule", "color": "#8c8c8c", "strokeWidth": 1}, "encoding": {"x2": {"field": "x2"}, "y2": {"field": "y2"}}},
{"data": {"name": "tri"}, "mark": {"type": "point", "shape": "circle", "filled": true, "fill": "#ffffff", "stroke": "#e040e0", "strokeWidth": 1.5, "size": 240, "opacity": 1}},
{"data": {"name": "tri"}, "mark": {"type": "point", "shape": "circle", "filled": true, "fill": "#606060", "stroke": "#2b2b2b", "strokeWidth": 0.8, "size": 150, "opacity": 1}},
{"data": {"name": "rA"}, "mark": {"type": "point", "shape": "circle", "filled": true, "color": "#f00010", "size": 26, "opacity": 1}},
{"data": {"name": "lp"}, "mark": {"type": "point", "shape": "circle", "filled": true, "color": "#f00010", "size": 9, "opacity": 1}},
{"data": {"name": "arr"}, "transform": [{"filter": "datum.p=='d'"}], "mark": {"type": "rule", "color": "#000000", "strokeWidth": 1.1}, "encoding": {"x2": {"field": "x2"}, "y2": {"field": "y2"}}},
{"data": {"name": "ah"}, "transform": [{"filter": "datum.p=='d'"}], "mark": {"type": "point", "shape": "triangle-right", "filled": true, "color": "#000000", "size": 30, "angle": 48, "opacity": 1}},
{"data": {"name": "ann"}, "transform": [{"filter": "datum.p=='d' && datum.t=='lab'"}], "mark": {"type": "text", "fontSize": 13, "color": "#111111"}, "encoding": {"text": {"field": "txt"}}},
{"data": {"name": "ann"}, "transform": [{"filter": "datum.p=='d' && datum.t=='let'"}], "mark": {"type": "text", "fontSize": 17, "color": "#111111"}, "encoding": {"text": {"field": "txt"}}},
{"data": {"name": "ann"}, "transform": [{"filter": "datum.p=='d' && datum.t=='bot'"}], "mark": {"type": "text", "fontSize": 14, "align": "left", "baseline": "alphabetic", "color": "#111111"}, "encoding": {"text": {"field": "txt"}}}
]
},
{
"width": 170, "height": 77,
"encoding": {
"x": {"field": "x", "type": "quantitative", "scale": {"domain": [0.9558, 1.0453], "nice": false, "zero": false}, "axis": {"values": [0.96, 0.98, 1, 1.02, 1.04], "format": "~g", "title": "x"}},
"y": {"field": "y", "type": "quantitative", "scale": {"domain": [-0.0183, 0.0224], "nice": false, "zero": false}, "axis": {"values": [-0.01, 0, 0.01, 0.02], "format": "~g", "title": "y"}}
},
"layer": [
{"data": {"name": "tB"}, "transform": [{"filter": "datum.k!='dash'"}], "mark": {"type": "line", "color": "#1414f0", "strokeWidth": 1.5, "interpolate": "catmull-rom"}, "encoding": {"detail": {"field": "s"}, "order": {"value": null}}},
{"data": {"name": "lead"}, "transform": [{"filter": "datum.p=='e'"}], "mark": {"type": "rule", "color": "#8c8c8c", "strokeWidth": 1}, "encoding": {"x2": {"field": "x2"}, "y2": {"field": "y2"}}},
{"data": {"name": "tri"}, "mark": {"type": "point", "shape": "circle", "filled": true, "fill": "#ffffff", "stroke": "#e040e0", "strokeWidth": 1.5, "size": 240, "opacity": 1}},
{"data": {"name": "tri"}, "mark": {"type": "point", "shape": "circle", "filled": true, "fill": "#606060", "stroke": "#2b2b2b", "strokeWidth": 0.8, "size": 150, "opacity": 1}},
{"data": {"name": "rB"}, "mark": {"type": "point", "shape": "circle", "filled": true, "color": "#f00010", "size": 26, "opacity": 1}},
{"data": {"name": "lp"}, "mark": {"type": "point", "shape": "diamond", "filled": true, "fill": "#800000", "stroke": "#ff1010", "strokeWidth": 1, "size": 22, "opacity": 1}},
{"data": {"name": "arr"}, "transform": [{"filter": "datum.p=='e'"}], "mark": {"type": "rule", "color": "#000000", "strokeWidth": 1.1}, "encoding": {"x2": {"field": "x2"}, "y2": {"field": "y2"}}},
{"data": {"name": "ah"}, "transform": [{"filter": "datum.p=='e'"}], "mark": {"type": "point", "shape": "triangle-right", "filled": true, "color": "#000000", "size": 30, "angle": 18, "opacity": 1}},
{"data": {"name": "ann"}, "transform": [{"filter": "datum.p=='e' && datum.t=='lab'"}], "mark": {"type": "text", "fontSize": 13, "color": "#111111"}, "encoding": {"text": {"field": "txt"}}},
{"data": {"name": "ann"}, "transform": [{"filter": "datum.p=='e' && datum.t=='let'"}], "mark": {"type": "text", "fontSize": 17, "color": "#111111"}, "encoding": {"text": {"field": "txt"}}},
{"data": {"name": "ann"}, "transform": [{"filter": "datum.p=='e' && datum.t=='bot'"}], "mark": {"type": "text", "fontSize": 14, "align": "left", "baseline": "alphabetic", "color": "#111111"}, "encoding": {"text": {"field": "txt"}}}
]
},
{
"width": 170, "height": 85,
"encoding": {
"x": {"field": "x", "type": "quantitative", "scale": {"domain": [0.9556, 1.0452], "nice": false, "zero": false}, "axis": {"values": [0.96, 0.98, 1, 1.02, 1.04], "format": "~g", "title": "x"}},
"y": {"field": "y", "type": "quantitative", "scale": {"domain": [-0.0166, 0.0281], "nice": false, "zero": false}, "axis": {"values": [-0.01, 0, 0.01, 0.02], "format": "~g", "title": "y"}}
},
"layer": [
{"data": {"name": "tC"}, "transform": [{"filter": "datum.k!='dash'"}], "mark": {"type": "line", "color": "#1414f0", "strokeWidth": 1.5, "interpolate": "catmull-rom"}, "encoding": {"detail": {"field": "s"}, "order": {"value": null}}},
{"data": {"name": "lead"}, "transform": [{"filter": "datum.p=='f'"}], "mark": {"type": "rule", "color": "#8c8c8c", "strokeWidth": 1}, "encoding": {"x2": {"field": "x2"}, "y2": {"field": "y2"}}},
{"data": {"name": "tri"}, "mark": {"type": "point", "shape": "circle", "filled": true, "fill": "#ffffff", "stroke": "#e040e0", "strokeWidth": 1.5, "size": 240, "opacity": 1}},
{"data": {"name": "tri"}, "mark": {"type": "point", "shape": "circle", "filled": true, "fill": "#606060", "stroke": "#2b2b2b", "strokeWidth": 0.8, "size": 150, "opacity": 1}},
{"data": {"name": "rC"}, "mark": {"type": "point", "shape": "circle", "filled": true, "color": "#f00010", "size": 26, "opacity": 1}},
{"data": {"name": "lp"}, "mark": {"type": "point", "shape": "diamond", "filled": true, "fill": "#800000", "stroke": "#ff1010", "strokeWidth": 1, "size": 22, "opacity": 1}},
{"data": {"name": "arr"}, "transform": [{"filter": "datum.p=='f'"}], "mark": {"type": "rule", "color": "#000000", "strokeWidth": 1.1}, "encoding": {"x2": {"field": "x2"}, "y2": {"field": "y2"}}},
{"data": {"name": "ah"}, "transform": [{"filter": "datum.p=='f'"}], "mark": {"type": "point", "shape": "triangle-right", "filled": true, "color": "#000000", "size": 30, "angle": 21, "opacity": 1}},
{"data": {"name": "ann"}, "transform": [{"filter": "datum.p=='f' && datum.t=='lab'"}], "mark": {"type": "text", "fontSize": 13, "color": "#111111"}, "encoding": {"text": {"field": "txt"}}},
{"data": {"name": "ann"}, "transform": [{"filter": "datum.p=='f' && datum.t=='let'"}], "mark": {"type": "text", "fontSize": 17, "color": "#111111"}, "encoding": {"text": {"field": "txt"}}},
{"data": {"name": "ann"}, "transform": [{"filter": "datum.p=='f' && datum.t=='bot'"}], "mark": {"type": "text", "fontSize": 14, "align": "left", "baseline": "alphabetic", "color": "#111111"}, "encoding": {"text": {"field": "txt"}}}
]
}
],
"config": {
"view": {"stroke": null},
"text": {"font": "Liberation Sans"},
"axis": {"grid": true, "gridColor": "#e4e4e4", "gridWidth": 0.8, "domainColor": "#9a9a9a", "domainWidth": 1, "ticks": false, "labelFont": "Liberation Serif", "labelFontSize": 11, "labelColor": "#5a5a5a", "labelPadding": 5, "labelOverlap": false, "labelFlush": false, "titleFont": "Liberation Serif", "titleFontStyle": "italic", "titleFontWeight": "normal", "titleFontSize": 13, "titleColor": "#6a6a6a"},
"axisX": {"titlePadding": 1},
"axisY": {"titlePadding": -3}
}
}
